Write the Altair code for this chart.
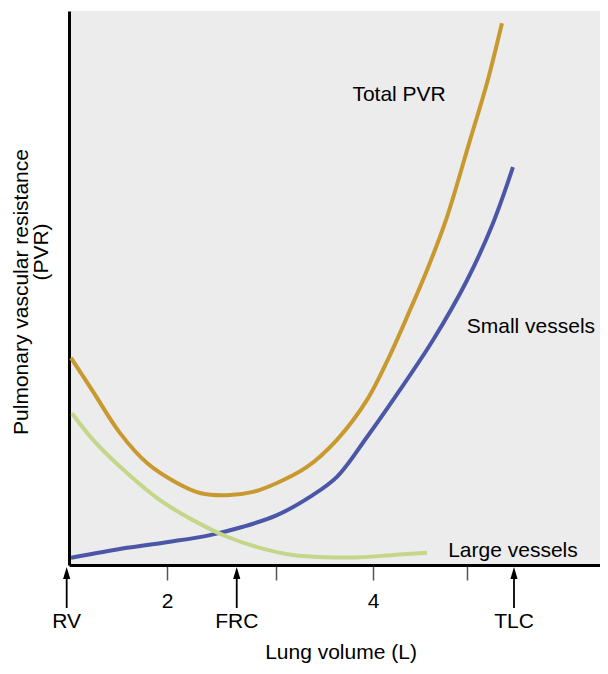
import altair as alt
import pandas as pd

# ---- data (lung volume in L, PVR in arbitrary units 0-100) ----
total_volume = [1.068, 1.282, 1.544, 1.806, 2.097, 2.320, 2.583, 2.835, 3.068, 3.359,
                3.650, 3.942, 4.165, 4.359, 4.524, 4.718, 4.942, 5.107, 5.252]
total_pvr = [37.4, 31.3, 23.8, 18.4, 14.8, 13.0, 12.6, 13.2, 14.8, 17.7,
             22.6, 29.8, 37.9, 46.0, 53.2, 62.8, 76.7, 87.0, 97.8]

small_volume = [1.068, 1.612, 2.029, 2.417, 2.738, 3.068, 3.388, 3.650, 3.942, 4.262,
                4.583, 4.913, 5.165, 5.359]
small_pvr = [1.3, 3.1, 4.2, 5.4, 6.9, 9.0, 12.3, 15.9, 23.1, 31.6,
             40.6, 51.4, 61.7, 71.8]

large_volume = [1.078, 1.282, 1.612, 1.932, 2.252, 2.583, 2.903, 3.223, 3.553, 3.874,
                4.194, 4.524]
large_pvr = [27.4, 22.6, 16.6, 11.7, 8.1, 5.1, 3.1, 1.8, 1.4, 1.4, 1.8, 2.2]

series_names = ["Total PVR", "Small vessels", "Large vessels"]
series_colors = ["#c8992f", "#4b56a7", "#c4d68a"]

label_volume = [3.80, 4.91, 4.73]
label_pvr = [83.7, 41.9, 1.5]

tick_values = [2, 3.06, 4, 4.91]
tick_labels = ["2", "", "4", ""]
landmark_names = ["RV", "FRC", "TLC"]
landmark_volume = [1.026, 2.677, 5.369]

x_title = "Lung volume (L)"
y_title_lines = ["Pulmonary vascular resistance", "(PVR)"]

FONT = "Liberation Sans"
FS = 21
W, H = 531, 554

rows = []
for name, xs, ys in [(series_names[0], total_volume, total_pvr),
                     (series_names[1], small_volume, small_pvr),
                     (series_names[2], large_volume, large_pvr)]:
    for a, b in zip(xs, ys):
        rows.append({"series": name, "volume": a, "pvr": b})
df = pd.DataFrame(rows)

xscale = alt.Scale(domain=[1.0485, 6.204], nice=False, zero=False)
yscale = alt.Scale(domain=[0, 100], nice=False, zero=False)

label_expr = " : ".join(
    f"datum.value == {v} ? '{t}'" for v, t in zip(tick_values, tick_labels)) + " : ''"

lines = alt.Chart(df).mark_line(strokeWidth=4, interpolate="catmull-rom").encode(
    x=alt.X("volume:Q", scale=xscale, title=None,
            axis=alt.Axis(values=tick_values, grid=False, domainColor="black", domainWidth=3,
                          tickColor="#555555", tickWidth=1.5, tickSize=15,
                          labelExpr=label_expr,
                          labelFont=FONT, labelFontSize=FS, labelColor="black",
                          labelPadding=10, labelFlush=False)),
    y=alt.Y("pvr:Q", scale=yscale, title=None,
            axis=alt.Axis(grid=False, ticks=False, labels=False, domainColor="black",
                          domainWidth=3)),
    color=alt.Color("series:N", scale=alt.Scale(domain=series_names, range=series_colors),
                    legend=None),
)

lab_df = pd.DataFrame({"series": series_names, "volume": label_volume, "pvr": label_pvr})
labels = alt.Chart(lab_df).mark_text(font=FONT, fontSize=FS, align="left",
                                     baseline="alphabetic", color="black").encode(
    x=alt.X("volume:Q", scale=xscale, title=None),
    y=alt.Y("pvr:Q", scale=yscale, title=None),
    text="series:N",
)

lm_df = pd.DataFrame({"name": landmark_names, "volume": landmark_volume})
arrow_shafts = alt.Chart(lm_df).mark_rule(color="black", strokeWidth=1.8).encode(
    x=alt.X("volume:Q", scale=xscale, title=None),
    y=alt.value(H + 8),
    y2=alt.value(H + 43),
)
arrow_heads = alt.Chart(lm_df).mark_point(shape="M-0.6,1L0,-1L0.6,1Z", filled=True,
                                          color="black", size=144, opacity=1).encode(
    x=alt.X("volume:Q", scale=xscale, title=None),
    y=alt.value(H + 8),
)
arrow_labels = alt.Chart(lm_df).mark_text(font=FONT, fontSize=FS, align="center",
                                          baseline="alphabetic", color="black").encode(
    x=alt.X("volume:Q", scale=xscale, title=None),
    y=alt.value(H + 63),
    text="name:N",
)

xt_df = pd.DataFrame({"t": [x_title]})
x_title_mark = alt.Chart(xt_df).mark_text(font=FONT, fontSize=FS, align="center",
                                          baseline="alphabetic", color="black").encode(
    x=alt.value(272), y=alt.value(H + 94), text="t:N")

yt1 = alt.Chart(pd.DataFrame({"t": [y_title_lines[0]]})).mark_text(
    font=FONT, fontSize=FS, align="center", baseline="alphabetic", angle=270,
    color="black").encode(x=alt.value(-41), y=alt.value(281), text="t:N")
yt2 = alt.Chart(pd.DataFrame({"t": [y_title_lines[1]]})).mark_text(
    font=FONT, fontSize=FS, align="center", baseline="alphabetic", angle=270,
    color="black").encode(x=alt.value(-21), y=alt.value(241), text="t:N")

chart = alt.layer(lines, labels, arrow_shafts, arrow_heads, arrow_labels,
                  x_title_mark, yt1, yt2).properties(
    width=W, height=H,
    autosize=alt.AutoSizeParams(type="none"),
    padding={"left": 61, "top": 3, "right": 0, "bottom": 100},
    background="white",
).configure_view(fill="#ececec", stroke=None)

chart.save("out.html", embed_options={"renderer": "svg", "actions": False})
